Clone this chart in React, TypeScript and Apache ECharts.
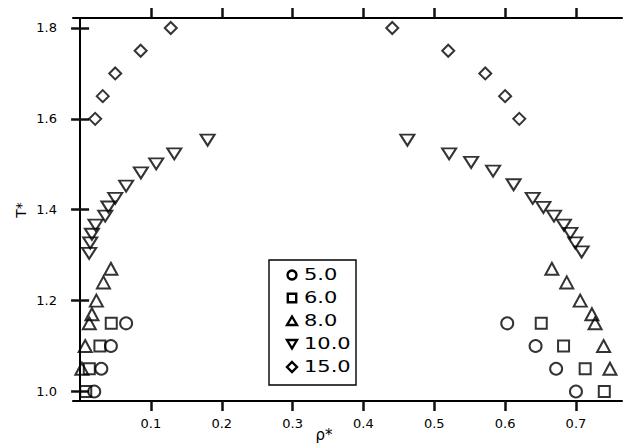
import React, { useEffect, useRef } from "react";
import * as echarts from "echarts";

// ---- data ----
const seriesNames = ["5.0", "6.0", "8.0", "10.0", "15.0"];

const circles5: number[][] = [
  [0.065, 1.15], [0.0435, 1.10], [0.030, 1.05], [0.020, 1.00],
  [0.603, 1.15], [0.643, 1.10], [0.672, 1.05], [0.700, 1.00],
];
const squares6: number[][] = [
  [0.044, 1.15], [0.028, 1.10], [0.013, 1.05], [0.008, 1.00],
  [0.651, 1.15], [0.6825, 1.10], [0.713, 1.05], [0.740, 1.00],
];
const triangles8: number[][] = [
  [0.0435, 1.27], [0.033, 1.24], [0.023, 1.20], [0.0167, 1.17], [0.013, 1.15], [0.0072, 1.10], [0.0025, 1.05],
  [0.666, 1.27], [0.687, 1.24], [0.706, 1.20], [0.7225, 1.17], [0.727, 1.15], [0.739, 1.10], [0.748, 1.05],
];
const downTriangles10: number[][] = [
  [0.180, 1.553], [0.133, 1.523], [0.1075, 1.501], [0.0858, 1.481], [0.065, 1.452], [0.0496, 1.425],
  [0.040, 1.406], [0.0355, 1.386], [0.0218, 1.366], [0.0167, 1.346], [0.0143, 1.327], [0.0128, 1.304],
  [0.462, 1.553], [0.521, 1.523], [0.552, 1.504], [0.583, 1.485], [0.612, 1.455], [0.639, 1.425],
  [0.654, 1.405], [0.669, 1.386], [0.683, 1.366], [0.692, 1.348], [0.699, 1.327], [0.708, 1.307],
];
const diamonds15: number[][] = [
  [0.0213, 1.60], [0.032, 1.65], [0.0496, 1.70], [0.0855, 1.75], [0.128, 1.80],
  [0.4407, 1.80], [0.5197, 1.75], [0.572, 1.70], [0.600, 1.65], [0.620, 1.60],
];

const xTicks = [0.1, 0.2, 0.3, 0.4, 0.5, 0.6, 0.7];
const yTicks = [1.0, 1.2, 1.4, 1.6, 1.8];

const allData = [circles5, squares6, triangles8, downTriangles10, diamonds15];
const symbols = ["circle", "rect", "triangle", "triangle", "diamond"];
const rotates = [0, 0, 0, 180, 0];
const sizes: any[] = [12, 11, [13, 12], [14, 11], 12];

const FONT = "DejaVu Sans";
const X_MIN = -0.01, X_MAX = 0.765, Y_MIN = 0.979, Y_MAX = 1.822;

export default function App() {
  const ref = useRef<HTMLDivElement>(null);
  useEffect(() => {
    if (!ref.current) return;
    const chart = echarts.init(ref.current, null, { renderer: "svg" });

    const axisLine = { show: true, lineStyle: { color: "#000", width: 2 } };
    const tickLine = { color: "#111", width: 2.5 };
    const mkX = (pos: string, labels: boolean) => ({
      type: "value",
      position: pos,
      min: X_MIN,
      max: X_MAX,
      axisLine,
      splitLine: { show: false },
      axisTick: { show: true, customValues: xTicks, length: 10, lineStyle: tickLine },
      axisLabel: {
        show: labels,
        customValues: xTicks,
        margin: 16,
        color: "#000",
        fontFamily: FONT,
        fontSize: 13,
        formatter: (v: number) => v.toFixed(1),
      },
    });
    const mkY = (pos: string, labels: boolean) => ({
      type: "value",
      position: pos,
      min: Y_MIN,
      max: Y_MAX,
      axisLine,
      splitLine: { show: false },
      axisTick: { show: true, customValues: yTicks, length: 9, lineStyle: tickLine },
      axisLabel: {
        show: labels,
        customValues: yTicks,
        margin: 16,
        color: "#000",
        fontFamily: FONT,
        fontSize: 13,
        formatter: (v: number) => v.toFixed(1),
      },
    });

    const legendX = 292;
    const legendYs = [275, 298, 321, 344, 367];
    const sym = { fill: "none", stroke: "#000", lineWidth: 2.4 };
    const legendGraphics: any[] = [
      { type: "rect", shape: { x: 269, y: 260, width: 87, height: 125 }, style: { fill: "#fff", stroke: "#000", lineWidth: 1.4 } },
    ];
    legendYs.forEach((cy, i) => {
      const x = legendX;
      let g: any;
      if (i === 0) g = { type: "circle", shape: { cx: x, cy, r: 4.5 }, style: sym };
      else if (i === 1) g = { type: "rect", shape: { x: x - 4.2, y: cy - 4.2, width: 8.4, height: 8.4 }, style: sym };
      else if (i === 2) g = { type: "polygon", shape: { points: [[x, cy - 4.5], [x + 5, cy + 4], [x - 5, cy + 4]] }, style: sym };
      else if (i === 3) g = { type: "polygon", shape: { points: [[x - 5, cy - 4], [x + 5, cy - 4], [x, cy + 4.5]] }, style: sym };
      else g = { type: "polygon", shape: { points: [[x, cy - 5], [x + 5, cy], [x, cy + 5], [x - 5, cy]] }, style: sym };
      legendGraphics.push(g);
      legendGraphics.push({
        type: "text",
        x: 304,
        y: cy,
        scaleX: 1.4,
        style: { text: seriesNames[i], fill: "#000", font: `15px "${FONT}"`, verticalAlign: "middle", align: "left" },
      });
    });

    chart.setOption({
      animation: false,
      backgroundColor: "#fff",
      grid: { left: 73, right: 6, top: 18, bottom: 44, containLabel: false },
      xAxis: [mkX("bottom", true), mkX("top", false)],
      yAxis: [mkY("left", true), mkY("right", false)],
      series: allData.map((d, i) => ({
        type: "scatter",
        name: seriesNames[i],
        data: d,
        symbol: symbols[i],
        symbolRotate: rotates[i],
        symbolSize: sizes[i],
        xAxisIndex: 0,
        yAxisIndex: 0,
        itemStyle: { color: "transparent", borderColor: "#000", borderWidth: 2 },
        emphasis: { disabled: true },
      })),
      graphic: [
        ...legendGraphics,
        { type: "text", x: 324, y: 435, style: { text: "ρ*", fill: "#000", font: `15px "${FONT}"`, align: "center", verticalAlign: "middle" } },
        { type: "text", x: 21, y: 210, rotation: Math.PI / 2, style: { text: "T*", fill: "#000", font: `14px "${FONT}"`, align: "center", verticalAlign: "middle" } },
      ],
    });
    return () => chart.dispose();
  }, []);
  return <div ref={ref} style={{ position: "fixed", left: 0, top: 0, width: 628, height: 445 }} />;
}
